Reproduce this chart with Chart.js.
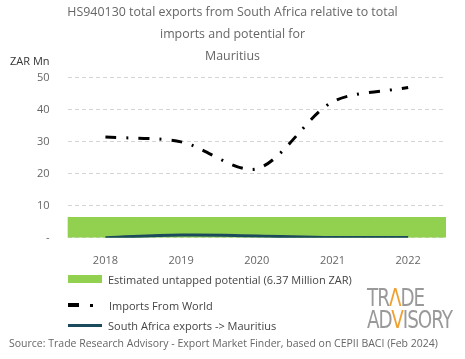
<!DOCTYPE html>
<html><head><meta charset="utf-8">
<script src="https://cdn.jsdelivr.net/npm/chart.js@4"></script>
<style>
html,body{margin:0;padding:0;background:#fff;}
#wrap{position:relative;width:465px;height:359px;font-family:"Open Sans",sans-serif;}
canvas{position:absolute;left:0;top:0;}
.lg{position:absolute;left:68px;font-size:11px;color:#444;white-space:nowrap;display:flex;align-items:center;height:16px;}
.sw{display:block;flex:none;}
#src{position:absolute;left:9px;top:336px;font-size:10.5px;color:#666;white-space:nowrap;}
#unit{position:absolute;left:10px;top:53px;font-size:11px;color:#333;}
#logo{position:absolute;left:367px;top:287px;font-family:"Liberation Sans Narrow","DejaVu Sans Condensed",sans-serif;font-size:24px;line-height:22px;color:#999;font-weight:normal;letter-spacing:-1.2px;transform:scaleX(0.85);transform-origin:left top;}
#logo span{color:#f0a030;}
</style></head>
<body><div id="wrap"><canvas id="c" width="465" height="359"></canvas>
<div id="unit">ZAR Mn</div>
<div class="lg" style="top:271px"><span class="sw" style="width:34px;height:8px;background:#92d050;margin-right:6px"></span>Estimated untapped potential (6.37 Million ZAR)</div>
<div class="lg" style="top:297px"><span class="sw" style="width:11px;height:4px;background:#000"></span><span class="sw" style="width:3px;height:3px;background:#000;margin-left:11px;margin-right:16px"></span>Imports From World</div>
<div class="lg" style="top:317px"><span class="sw" style="width:34px;height:3px;background:#1b4a5c;margin-right:6px"></span>South Africa exports -&gt; Mauritius</div>
<div id="logo">TR<span>Λ</span>DE<br>AD<span>V</span>ISORY</div>
<div id="src">Source: Trade Research Advisory - Export Market Finder, based on CEPII BACI (Feb 2024)</div>
</div>
<script>
const categories = ["2018","2019","2020","2021","2022"];
const potential = [6.37,6.37,6.37,6.37,6.37];
const importsWorld = [31.5,30.0,21.6,42.5,47.0];
const saExports = [0.05,0.85,0.6,0.1,0.1];
const yTicks = [0,10,20,30,40,50];
const titleLines = ["HS940130 total exports from South Africa relative to total","imports and potential for","Mauritius"];

new Chart(document.getElementById('c'), {
  data: {
    labels: categories,
    datasets: [
      {type:'line', label:'South Africa exports -> Mauritius', data:saExports, borderColor:'#1b4a5c', borderWidth:3, pointRadius:0, tension:0.4, order:1},
      {type:'line', label:'Imports From World', data:importsWorld, borderColor:'#000', borderWidth:3, borderDash:[11,10,2,10], pointRadius:0, tension:0.3, order:2},
      {type:'bar', label:'Estimated untapped potential (6.37 Million ZAR)', data:potential, backgroundColor:'#92d050', barPercentage:1, categoryPercentage:1, order:3}
    ]
  },
  options: {
    responsive:false, animation:false,
    layout:{padding:{left:19,right:19,top:0,bottom:84}},
    plugins:{
      legend:{display:false},
      tooltip:{enabled:false},
      title:{display:true, text:titleLines, color:'#666', font:{family:'"Open Sans", sans-serif', size:12.4, weight:'normal', lineHeight:1.8}, padding:{top:1,bottom:10}}
    },
    scales:{
      x:{offset:true, grid:{display:false}, border:{display:false}, ticks:{color:'#666', font:{family:'"Open Sans", sans-serif', size:11}, padding:8}},
      y:{min:0, max:50, afterBuildTicks:(ax)=>{ax.ticks=yTicks.map(v=>({value:v}));},
         grid:{color:'#d4d4d4', lineWidth:1, tickLength:0, drawTicks:false},
         border:{display:false, dash:[4,3]},
         ticks:{color:'#666', font:{family:'"Open Sans", sans-serif', size:11}, padding:18, callback:(v)=>v===0?'-':v}}
    }
  }
});
</script></body></html>
